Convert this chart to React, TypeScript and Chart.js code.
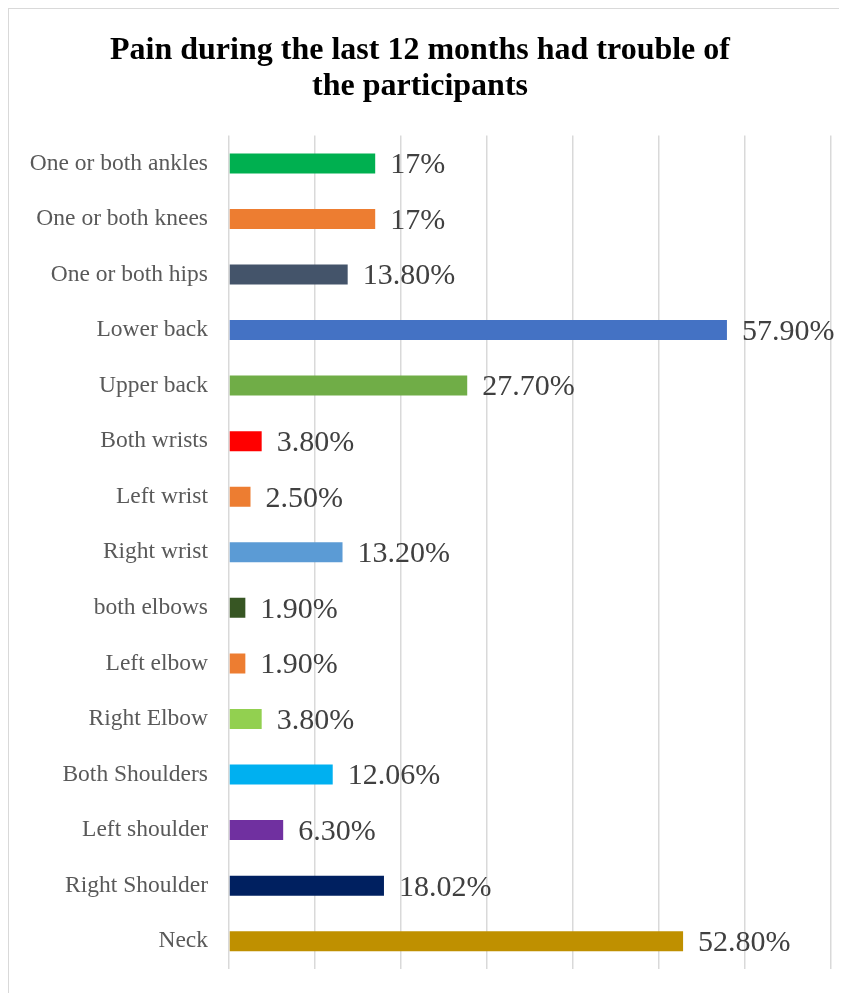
import React, { useEffect, useRef } from "react";
import { Chart, registerables } from "chart.js";
Chart.register(...registerables);

const categories = [
  "One or both ankles",
  "One or both knees",
  "One or both hips",
  "Lower back",
  "Upper back",
  "Both wrists",
  "Left wrist",
  "Right wrist",
  "both elbows",
  "Left elbow",
  "Right Elbow",
  "Both Shoulders",
  "Left shoulder",
  "Right Shoulder",
  "Neck",
];
const values = [17, 17, 13.8, 57.9, 27.7, 3.8, 2.5, 13.2, 1.9, 1.9, 3.8, 12.06, 6.3, 18.02, 52.8];
const valueLabels = ["17%", "17%", "13.80%", "57.90%", "27.70%", "3.80%", "2.50%", "13.20%", "1.90%", "1.90%", "3.80%", "12.06%", "6.30%", "18.02%", "52.80%"];
const barColors = [
  "#00B050", "#ED7D31", "#44546A", "#4472C4", "#70AD47", "#FF0000", "#ED7D31",
  "#5B9BD5", "#375623", "#ED7D31", "#92D050", "#00B0F0", "#7030A0", "#002060", "#BF9000",
];
const titleLines = ["Pain during the last 12 months had trouble of", "the participants"];

const SERIF = "'Liberation Serif', 'Times New Roman', serif";

const valueLabelPlugin = {
  id: "valueLabels",
  afterDatasetsDraw(chart: any) {
    const ctx = chart.ctx;
    const meta = chart.getDatasetMeta(0);
    ctx.save();
    ctx.font = `30px ${SERIF}`;
    ctx.fillStyle = "#404040";
    ctx.textAlign = "left";
    ctx.textBaseline = "middle";
    meta.data.forEach((bar: any, i: number) => {
      ctx.fillText(valueLabels[i], bar.x + 15, bar.y + 2);
    });
    ctx.restore();
  },
};

export default function App() {
  const ref = useRef<HTMLCanvasElement>(null);
  useEffect(() => {
    if (!ref.current) return;
    const chart = new Chart(ref.current, {
      type: "bar",
      data: {
        labels: categories,
        datasets: [
          {
            data: values,
            backgroundColor: barColors,
            barPercentage: 0.36,
            categoryPercentage: 1,
          },
        ],
      },
      plugins: [valueLabelPlugin],
      options: {
        indexAxis: "y",
        animation: false,
        responsive: false,
        layout: { padding: { left: 0, right: 16, top: 0, bottom: 25 } },
        plugins: {
          legend: { display: false },
          tooltip: { enabled: false },
          title: {
            display: true,
            text: titleLines,
            color: "#000000",
            font: { family: SERIF, size: 32, weight: "bold", lineHeight: 1.15 },
            padding: { top: 23, bottom: 30 },
          },
        },
        scales: {
          x: {
            min: 0,
            max: 70,
            ticks: { display: false, stepSize: 10 },
            grid: { color: "#d9d9d9", lineWidth: 1.5, drawTicks: false },
            border: { display: false },
            afterFit(scale: any) {
              scale.height = 0;
              scale.paddingLeft = 0;
              scale.paddingRight = 0;
            },
          },
          y: {
            ticks: {
              color: "#595959",
              font: { family: SERIF, size: 23.5 },
              padding: 21,
            },
            grid: { display: false, drawTicks: false },
            border: { display: false },
            afterFit(scale: any) {
              scale.width = 220;
              scale.paddingTop = 0;
              scale.paddingBottom = 0;
            },
          },
        },
      },
    });
    return () => chart.destroy();
  }, []);
  return (
    <div
      style={{
        borderTop: "1px solid #d9d9d9",
        borderLeft: "1px solid #d9d9d9",
        width: 838,
        height: 985,
        overflow: "hidden",
      }}
    >
      <canvas ref={ref} width={838} height={985} style={{ display: "block" }} />
    </div>
  );
}
